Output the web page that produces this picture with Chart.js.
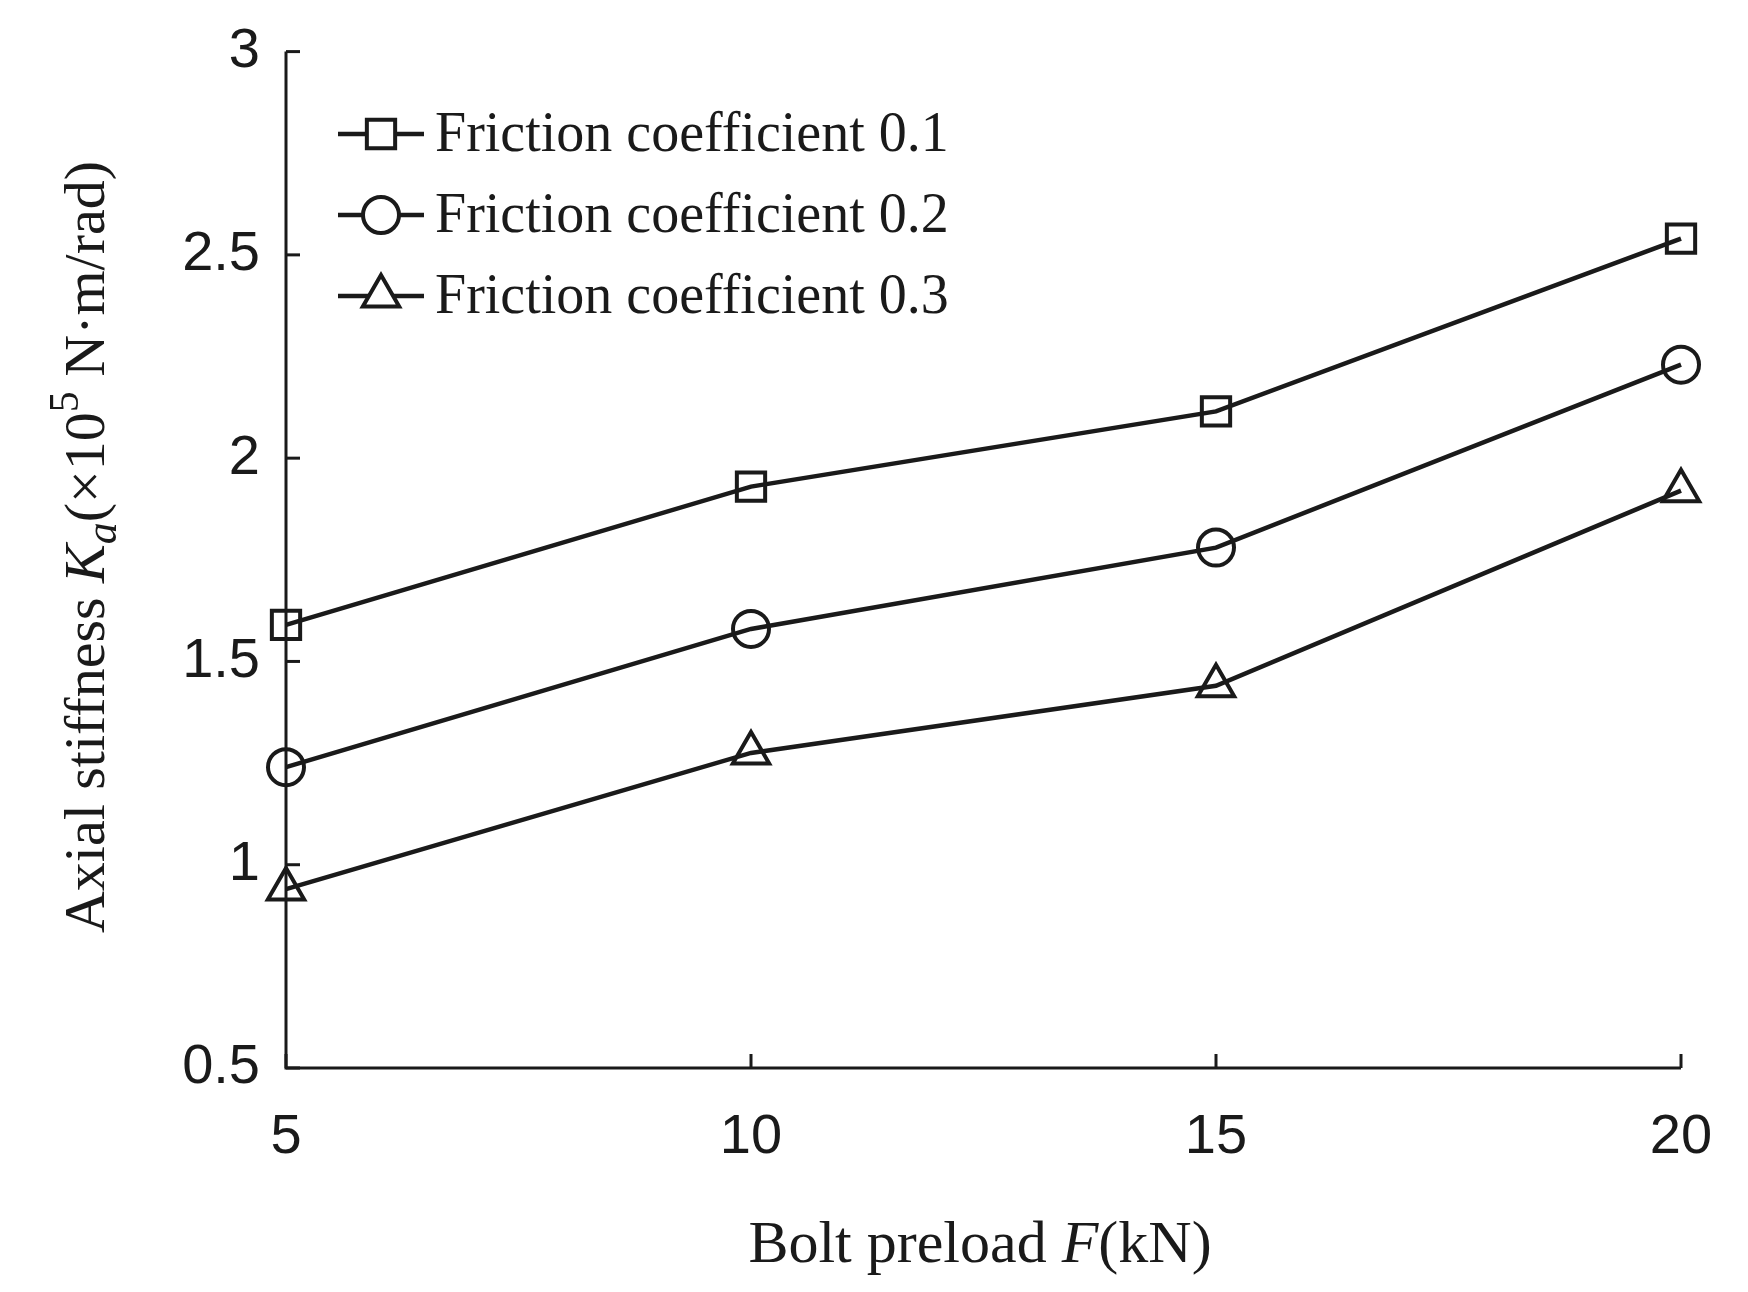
<!DOCTYPE html><html><head><style>html,body{margin:0;background:#fff}</style>
<script src="https://cdn.jsdelivr.net/npm/chart.js@4"></script></head><body>
<div style="width:1748px;height:1292px"><canvas id="c" width="1748" height="1292"></canvas></div>
<script>
const preload=[5,10,15,20];
const mu01=[1.59,1.93,2.115,2.54];
const mu02=[1.24,1.58,1.78,2.23];
const mu03=[0.94,1.275,1.44,1.92];
const labels=['Friction coefficient 0.1','Friction coefficient 0.2','Friction coefficient 0.3'];
const yTicks=[0.5,1,1.5,2,2.5,3];
const xTicks=[5,10,15,20];
const col='#1a1a1a';
function ds(lbl,v,st,r){return {label:lbl,data:preload.map((x,i)=>({x,y:v[i]})),borderColor:col,backgroundColor:'rgba(0,0,0,0)',borderWidth:4.5,pointStyle:st,pointRadius:r,pointBorderWidth:4,pointBackgroundColor:'rgba(0,0,0,0)',pointBorderColor:col,clip:false};}
const deco={id:'deco',afterDraw(ch){const c=ch.ctx,a=ch.chartArea,xs=ch.scales.x,ys=ch.scales.y;c.save();c.strokeStyle=col;c.lineWidth=3;
c.beginPath();c.moveTo(a.left,a.top);c.lineTo(a.left,a.bottom);c.lineTo(a.right,a.bottom);c.stroke();
xTicks.forEach(t=>{const p=xs.getPixelForValue(t);c.beginPath();c.moveTo(p,a.bottom);c.lineTo(p,a.bottom-14);c.stroke();});
yTicks.forEach(t=>{const p=ys.getPixelForValue(t);c.beginPath();c.moveTo(a.left,p);c.lineTo(a.left+14,p);c.stroke();});
c.textBaseline='middle';c.textAlign='left';
const ys2=[134,215,296],st=['rect','circle','triangle'],rr=[20,18,21];
ys2.forEach((y,i)=>{c.lineWidth=4.5;c.beginPath();c.moveTo(338,y);c.lineTo(424,y);c.stroke();
c.fillStyle='#fff';c.lineWidth=4;Chart.helpers.drawPoint(c,{pointStyle:st[i],radius:rr[i],borderWidth:4},381,y);
c.fillStyle=col;c.font='56px "Liberation Serif"';c.fillText(labels[i],435,y+2);});
c.textAlign='left';c.textBaseline='alphabetic';
const parts=[['Bolt preload ','normal'],['F','italic'],['(kN)','normal']];
let w=0;parts.forEach(p=>{c.font=p[1]+' 60px "Liberation Serif"';w+=c.measureText(p[0]).width;});
let x=980-w/2;parts.forEach(p=>{c.font=p[1]+' 60px "Liberation Serif"';c.fillText(p[0],x,1262);x+=c.measureText(p[0]).width;});
c.translate(104,547);c.rotate(-Math.PI/2);
const yp=[['Axial stiffness ','normal',58,0],['K','italic',58,0],['a','italic',44,12],['(×10','normal',58,0],['5','normal',42,-26],[' N·m/rad)','normal',58,0]];
w=0;yp.forEach(p=>{c.font=p[1]+' '+p[2]+'px "Liberation Serif"';w+=c.measureText(p[0]).width;});
x=-w/2;yp.forEach(p=>{c.font=p[1]+' '+p[2]+'px "Liberation Serif"';c.fillText(p[0],x,p[3]);x+=c.measureText(p[0]).width;});
c.restore();}};
new Chart(document.getElementById('c'),{type:'line',data:{datasets:[ds(labels[0],mu01,'rect',20),ds(labels[1],mu02,'circle',18),ds(labels[2],mu03,'triangle',21)]},
options:{responsive:false,animation:false,layout:{padding:{top:46,right:67,left:0,bottom:0}},
plugins:{legend:{display:false},tooltip:{enabled:false}},
scales:{x:{type:'linear',min:5,max:20,afterBuildTicks:s=>{s.ticks=xTicks.map(v=>({value:v}));},afterFit:s=>{s.height=224;},
grid:{display:false},border:{display:false},ticks:{color:col,padding:28,font:{family:'Liberation Sans',size:56}}},
y:{min:0.5,max:3,afterBuildTicks:s=>{s.ticks=yTicks.map(v=>({value:v}));},afterFit:s=>{s.width=286;},
grid:{display:false},border:{display:false},ticks:{color:col,padding:18,callback:v=>String(v),font:{family:'Liberation Sans',size:56}}}}},plugins:[deco]});
</script></body></html>
